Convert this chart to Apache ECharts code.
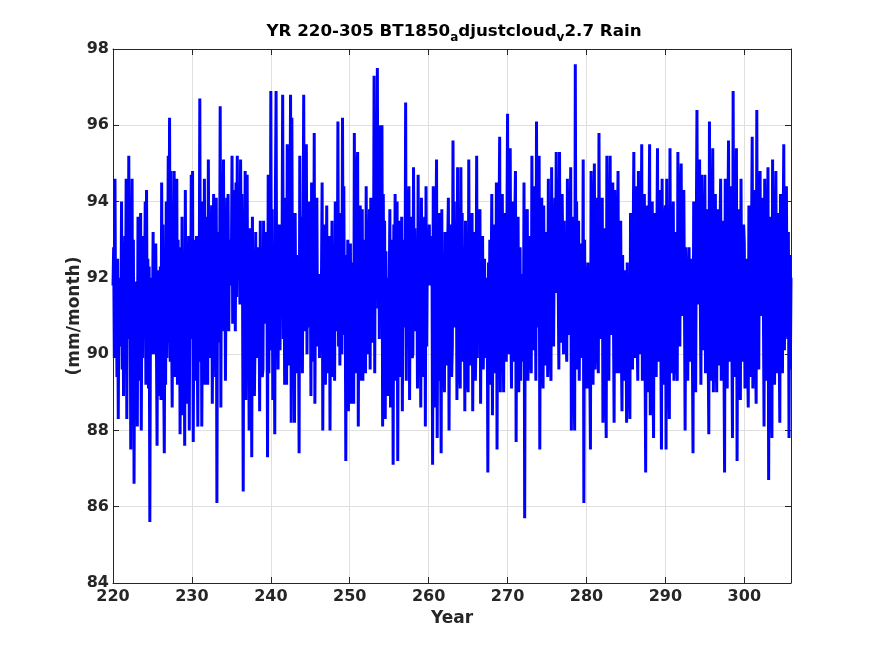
<!DOCTYPE html>
<html>
<head>
<meta charset="utf-8">
<script src="https://cdn.jsdelivr.net/npm/echarts@6/dist/echarts.min.js"></script>
<style>
  html, body { margin: 0; padding: 0; background: #fff; }
  #chart { width: 875px; height: 656px; }
</style>
</head>
<body>
<div id="chart"></div>
<script>
// monthly global-mean rain (mm/month), one array per decade
const rain220s = [
  91.8, 92.8, 89.9, 94.6, 90.6, 92.3,  89.4, 92.5, 88.3, 91.6, 90.2, 92.0,
  90.5, 94.0, 89.6, 92.7, 88.9, 91.9,  93.1, 90.2, 94.6, 88.3, 92.4, 90.8,
  95.2, 90.4, 92.9, 87.5, 91.7, 94.6,  88.2, 93.0, 86.6, 91.4, 89.5, 91.8,
  91.9, 88.1, 93.6, 90.3, 92.1, 89.3,  93.7, 88.0, 92.2, 89.9, 93.1, 90.6,
  91.6, 94.0, 89.2, 94.3, 90.4, 92.5,  89.1, 92.3, 85.6, 91.2, 90.0, 92.0,
  90.8, 93.2, 90.0, 92.6, 91.3, 92.9,  90.5, 87.6, 92.2, 89.0, 91.7, 88.9,
  92.3, 88.8, 94.5, 90.1, 93.4, 89.6,  87.4, 92.6, 89.2, 94.0, 89.9, 91.5,
  95.2, 90.3, 96.2, 89.8, 94.8, 91.0,  88.6, 93.3, 90.0, 94.8, 89.4, 92.4,
  91.2, 94.6, 89.2, 93.0, 90.6, 92.8,  87.9, 92.3, 89.5, 93.6, 88.4, 91.5,
  92.0, 87.6, 94.3, 89.7, 92.9, 88.7,  90.9, 93.1, 88.0, 92.6, 90.4, 94.7
];
const rain230s = [
  92.2, 94.8, 87.7, 91.4, 89.6, 93.0,  89.3, 93.1, 90.5, 88.1, 92.4, 90.7,
  96.7, 89.8, 93.5, 88.1, 91.2, 94.0,  90.1, 94.6, 89.2, 92.8, 91.0, 93.6,
  89.2, 95.1, 90.7, 93.3, 89.9, 92.0,  93.9, 88.7, 91.6, 94.2, 90.2, 92.4,
  89.4, 94.1, 86.1, 92.7, 90.3, 93.2,  91.0, 96.5, 88.6, 94.0, 90.8, 92.9,
  95.1, 90.6, 93.4, 89.3, 92.3, 94.1,  91.4, 94.2, 90.6, 93.0, 91.8, 92.6,
  92.2, 95.2, 90.8, 93.7, 91.1, 94.3,  90.6, 94.5, 91.5, 95.2, 92.0, 93.4,
  93.8, 91.3, 95.1, 92.1, 94.2, 91.7,  86.4, 92.9, 90.4, 94.8, 88.8, 93.1,
  94.7, 89.6, 92.5, 88.0, 93.3, 90.2,  91.4, 87.3, 93.6, 89.8, 92.6, 88.9,
  90.3, 93.2, 89.9, 92.4, 91.2, 92.8,  92.1, 88.5, 93.5, 90.0, 91.5, 89.4,
  89.6, 93.5, 90.8, 92.9, 91.0, 93.2,  92.6, 87.3, 94.7, 89.5, 93.4, 90.1
];
const rain240s = [
  96.9, 90.2, 93.8, 88.8, 92.5, 91.1,  87.9, 94.3, 96.9, 90.5, 92.7, 89.6,
  91.9, 93.4, 90.1, 92.8, 91.3, 92.2,  96.8, 90.4, 93.5, 89.2, 94.1, 91.6,
  89.2, 95.5, 91.0, 93.2, 89.7, 92.9,  96.8, 88.2, 96.2, 90.6, 93.0, 91.4,
  88.2, 93.7, 90.4, 92.6, 89.5, 92.1,  91.3, 87.4, 95.2, 89.9, 93.6, 90.8,
  89.5, 92.8, 96.8, 90.6, 94.4, 91.2,  95.5, 90.0, 93.1, 91.4, 94.0, 90.7,
  92.5, 88.9, 94.5, 90.3, 93.2, 89.8,  95.8, 88.7, 92.4, 90.9, 94.1, 90.2,
  90.8, 92.1, 89.9, 91.7, 90.4, 91.9,  94.5, 88.0, 92.3, 90.1, 93.4, 89.2,
  91.0, 93.9, 89.5, 92.6, 90.7, 93.1,  88.0, 92.7, 90.3, 93.5, 89.4, 92.0,
  92.4, 89.3, 94.0, 90.6, 93.3, 90.9,  96.1, 90.2, 93.7, 89.7, 92.8, 91.5,
  90.0, 96.2, 91.3, 94.4, 90.5, 92.5,  87.2, 92.6, 89.8, 93.0, 88.5, 91.7
];
const rain250s = [
  90.6, 92.9, 88.7, 91.8, 90.1, 92.4,  88.7, 95.8, 90.2, 93.1, 89.5, 94.6,
  95.3, 88.1, 92.6, 90.4, 93.9, 89.3,  91.2, 93.8, 89.3, 92.5, 90.8, 93.0,
  89.5, 94.4, 90.7, 93.2, 90.0, 92.1,  93.8, 89.6, 94.1, 90.9, 92.7, 90.3,
  90.8, 97.3, 89.5, 94.6, 91.5, 93.4,  97.5, 91.2, 95.8, 90.4, 96.0, 92.3,
  92.0, 96.0, 88.1, 94.2, 90.6, 93.5,  88.3, 92.7, 89.9, 91.8, 88.9, 92.0,
  91.5, 93.8, 88.6, 92.4, 90.2, 93.0,  87.1, 93.4, 90.1, 94.2, 89.3, 92.6,
  94.0, 87.2, 92.7, 89.6, 93.5, 90.5,  89.4, 93.6, 88.5, 92.3, 90.7, 93.0,
  91.0, 96.6, 89.3, 94.3, 90.2, 92.8,  94.4, 88.8, 92.5, 90.8, 93.6, 89.9,
  90.0, 94.9, 91.4, 93.3, 90.6, 92.7,  92.9, 89.1, 94.7, 90.5, 93.2, 91.1,
  88.6, 94.1, 90.3, 92.5, 89.4, 93.3,  93.6, 88.1, 94.4, 90.2, 92.8, 91.8
];
const rain260s = [
  92.1, 93.4, 91.8, 92.9, 92.3, 93.1,  87.1, 94.4, 89.8, 92.7, 88.6, 93.0,
  95.1, 87.8, 92.4, 90.1, 93.7, 89.3,  90.6, 87.4, 93.8, 89.5, 92.6, 90.2,
  89.0, 93.2, 90.4, 92.5, 89.7, 92.9,  94.1, 88.0, 92.2, 90.6, 93.4, 89.4,
  90.2, 95.6, 91.3, 94.0, 90.7, 93.2,  93.5, 88.8, 94.9, 90.1, 92.6, 89.6,
  89.1, 94.9, 90.6, 93.7, 89.8, 92.4,  92.8, 88.5, 93.5, 90.2, 92.1, 89.4,
  89.0, 95.1, 90.8, 93.6, 89.7, 92.9,  93.7, 88.5, 92.4, 90.4, 93.2, 89.3,
  90.3, 95.2, 89.9, 93.8, 91.0, 92.6,  93.8, 88.7, 92.3, 90.5, 93.1, 89.6,
  91.0, 92.5, 89.9, 92.0, 90.6, 91.8,  86.9, 92.4, 90.0, 93.0, 89.2, 91.6,
  94.2, 88.4, 92.6, 90.3, 93.4, 89.5,  90.1, 94.5, 87.5, 92.8, 89.6, 93.3,
  95.7, 89.0, 93.1, 90.4, 94.2, 90.9,  89.0, 93.7, 90.6, 92.9, 89.8, 93.3
];
const rain270s = [
  96.3, 90.0, 93.9, 91.2, 95.4, 90.8,  89.1, 94.0, 90.7, 92.8, 89.8, 93.5,
  94.8, 87.7, 92.3, 90.0, 93.6, 89.0,  90.9, 92.8, 89.3, 92.1, 90.3, 91.9,
  89.8, 94.5, 85.7, 92.6, 90.4, 93.7,  93.8, 89.3, 92.4, 90.5, 93.1, 89.9,
  89.5, 95.2, 90.8, 93.5, 90.1, 94.4,  92.3, 89.3, 96.1, 90.7, 94.6, 91.2,
  95.2, 87.5, 93.0, 89.9, 94.1, 90.3,  89.1, 93.9, 90.5, 92.7, 89.7, 93.2,
  92.4, 89.4, 94.6, 90.6, 93.3, 90.1,  89.3, 94.9, 91.0, 93.4, 90.2, 92.9,
  94.1, 91.6, 95.3, 92.2, 94.6, 91.9,  89.6, 95.3, 90.9, 93.8, 90.3, 94.2,
  92.6, 90.0, 93.5, 90.8, 92.9, 90.4,  89.8, 94.6, 91.1, 93.2, 90.5, 92.8,
  94.9, 88.0, 92.5, 90.2, 93.6, 89.5,  88.0, 97.6, 90.9, 94.0, 89.6, 92.6,
  93.5, 89.3, 92.2, 90.6, 92.9, 89.9,  90.4, 95.1, 86.1, 93.0, 89.5, 92.3
];
const rain280s = [
  91.5, 89.1, 92.4, 90.2, 92.0, 89.8,  87.5, 94.8, 90.1, 92.9, 89.2, 93.4,
  95.0, 89.6, 92.7, 90.8, 94.1, 90.3,  89.5, 95.8, 91.2, 93.6, 90.4, 92.8,
  94.1, 88.2, 92.5, 90.3, 93.3, 89.4,  87.8, 95.2, 90.5, 93.4, 89.3, 92.6,
  95.2, 90.5, 93.8, 91.4, 94.5, 91.0,  88.2, 94.3, 90.6, 92.8, 89.5, 93.0,
  94.8, 89.5, 92.9, 90.7, 93.5, 90.2,  88.5, 92.6, 90.1, 91.9, 89.3, 92.2,
  91.6, 88.2, 92.4, 89.7, 91.8, 89.2,  88.3, 93.7, 90.4, 92.7, 89.6, 93.0,
  95.3, 89.9, 93.2, 91.0, 94.4, 90.5,  89.3, 94.8, 90.9, 93.5, 90.0, 92.7,
  95.5, 89.3, 92.9, 90.6, 94.2, 90.1,  86.9, 93.9, 90.0, 92.5, 89.0, 93.1,
  95.5, 88.4, 92.8, 90.3, 94.0, 89.7,  87.8, 93.7, 90.2, 92.6, 89.4, 92.9,
  95.4, 89.8, 93.1, 91.0, 94.3, 90.4,  87.5, 94.6, 90.3, 92.8, 89.2, 93.4
];
const rain290s = [
  93.9, 87.5, 94.6, 90.2, 92.6, 89.4,  88.3, 95.4, 90.6, 93.4, 89.5, 92.9,
  94.0, 89.3, 92.4, 90.5, 93.2, 89.9,  89.3, 95.3, 91.0, 93.6, 90.2, 94.1,
  95.0, 91.0, 93.5, 91.8, 94.3, 91.4,  88.0, 92.8, 90.1, 92.2, 89.3, 91.9,
  92.8, 89.8, 92.1, 90.5, 92.5, 90.2,  87.4, 94.0, 90.3, 92.7, 89.0, 93.2,
  96.4, 91.3, 94.2, 92.0, 95.1, 91.7,  89.2, 94.7, 90.8, 93.4, 90.1, 92.8,
  94.7, 89.5, 92.6, 90.7, 93.8, 90.2,  87.9, 96.1, 90.4, 93.9, 89.3, 92.7,
  95.4, 89.0, 92.9, 90.6, 94.2, 90.1,  89.0, 93.8, 90.5, 92.6, 89.7, 93.1,
  94.6, 89.3, 92.4, 90.6, 93.5, 90.0,  86.9, 94.6, 90.2, 92.8, 89.1, 93.3,
  95.6, 89.8, 93.0, 91.1, 94.4, 90.5,  87.8, 96.9, 90.6, 94.1, 89.4, 92.9,
  95.4, 87.2, 92.6, 90.3, 93.8, 89.6,  88.8, 94.6, 90.7, 92.9, 89.8, 93.4
];
const rain300s = [
  92.9, 89.1, 92.0, 90.4, 92.5, 89.8,  88.6, 93.9, 90.3, 92.6, 89.4, 93.1,
  95.7, 89.1, 92.8, 90.7, 94.3, 90.2,  88.7, 96.4, 90.5, 93.6, 89.6, 94.0,
  94.8, 91.0, 93.4, 91.7, 94.1, 91.3,  88.1, 94.6, 90.4, 92.8, 89.3, 93.2,
  94.9, 86.7, 92.5, 90.2, 93.6, 89.4,  87.8, 95.1, 90.6, 93.3, 89.2, 92.7,
  94.8, 89.5, 92.9, 90.8, 93.7, 90.3,  88.2, 94.2, 90.4, 92.5, 89.5, 93.0,
  95.5, 90.1, 93.3, 91.2, 94.4, 90.7,  90.4, 93.2, 87.8, 92.6, 89.6, 92.0
];

const startYear = 220;
const xTicks = [220, 230, 240, 250, 260, 270, 280, 290, 300];
const yTicks = [84, 86, 88, 90, 92, 94, 96, 98];

const rain = [].concat(rain220s, rain230s, rain240s, rain250s, rain260s,
  rain270s, rain280s, rain290s, rain300s);
// one value per month, so the time of month i is startYear + i/12
const seriesData = rain.map((v, i) => [startYear + i / 12, v]);
const lastX = startYear + (rain.length - 1) / 12;

const ink = '#262626';
const font = 'DejaVu Sans';

function boxAxis(extra) {
  return Object.assign({
    type: 'value',
    axisLine: { show: true, onZero: false, lineStyle: { color: ink, width: 1 } },
    axisTick: { show: true, inside: true, length: 6, lineStyle: { color: ink } },
    splitLine: { show: false },
    axisLabel: { show: false }
  }, extra);
}

const labelStyle = { color: ink, fontFamily: font, fontWeight: 'bold', fontSize: 16 };

const option = {
  animation: false,
  backgroundColor: '#fff',
  title: {
    text: '{t|YR 220-305 BT1850}{s|a}{t|djustcloud}{s|v}{t|2.7 Rain}',
    left: 449,
    top: 15,
    textAlign: 'center',
    textStyle: {
      rich: {
        t: { fontFamily: font, fontWeight: 'bold', fontSize: 16.7, color: '#000', lineHeight: 24, verticalAlign: 'middle' },
        s: { fontFamily: font, fontWeight: 'bold', fontSize: 12, color: '#000', lineHeight: 24, verticalAlign: 'bottom' }
      }
    }
  },
  grid: { left: 113, right: 84, top: 49, bottom: 73 },
  xAxis: [
    boxAxis({
      min: startYear, max: lastX, interval: 10,
      name: 'Year', nameLocation: 'middle', nameGap: 26,
      nameTextStyle: { color: ink, fontFamily: font, fontWeight: 'bold', fontSize: 17 },
      axisLabel: Object.assign({ show: true, margin: 6,
        formatter: v => (xTicks.indexOf(v) >= 0 ? String(v) : '') }, labelStyle),
      splitLine: { show: true, lineStyle: { color: '#dfdfdf', width: 1 } }
    }),
    boxAxis({ position: 'top', min: startYear, max: lastX, interval: 10 })
  ],
  yAxis: [
    boxAxis({
      min: yTicks[0], max: yTicks[yTicks.length - 1], interval: 2,
      name: '(mm/month)', nameLocation: 'middle', nameGap: 30, nameRotate: 90,
      nameMoveOverlap: false,
      nameTextStyle: { color: ink, fontFamily: font, fontWeight: 'bold', fontSize: 17 },
      axisLabel: Object.assign({ show: true, margin: 4 }, labelStyle),
      splitLine: { show: true, lineStyle: { color: '#dfdfdf', width: 1 } }
    }),
    boxAxis({ position: 'right', min: yTicks[0], max: yTicks[yTicks.length - 1], interval: 2 })
  ],
  series: [{
    type: 'line',
    xAxisIndex: 0,
    yAxisIndex: 0,
    data: seriesData,
    showSymbol: false,
    symbol: 'none',
    clip: true,
    lineStyle: { color: '#0000ff', width: 3 },
    emphasis: { disabled: true }
  }]
};

const myChart = echarts.init(document.getElementById('chart'));
myChart.setOption(option);
</script>
</body>
</html>
